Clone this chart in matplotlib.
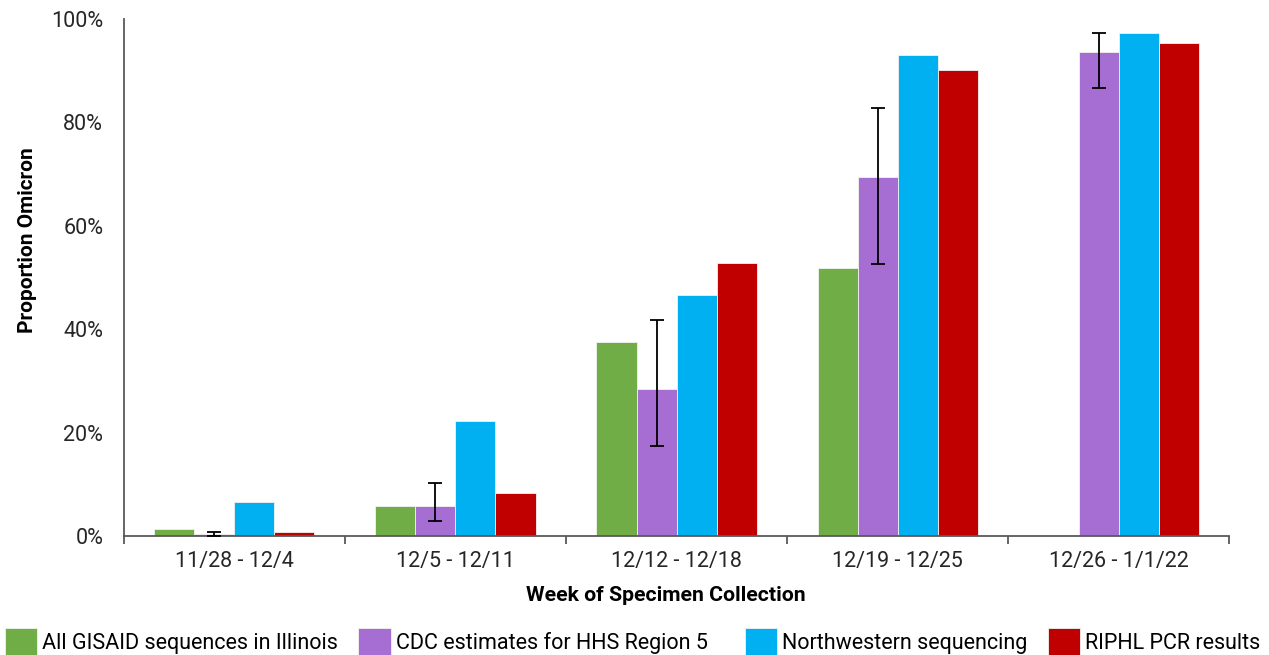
import matplotlib
matplotlib.use("Agg")
import matplotlib.pyplot as plt
import numpy as np
from matplotlib.patches import Patch
from matplotlib.ticker import FuncFormatter

plt.rcParams['font.family'] = ['Roboto', 'DejaVu Sans']

weeks = ['11/28 - 12/4', '12/5 - 12/11', '12/12 - 12/18', '12/19 - 12/25', '12/26 - 1/1/22']
series_names = ['All GISAID sequences in Illinois', 'CDC estimates for HHS Region 5',
                'Northwestern sequencing', 'RIPHL PCR results']
colors = ['#70AD47', '#A66ED2', '#00B0F0', '#C00000']

gisaid = [1.3, 5.8, 37.5, 51.8, np.nan]
cdc = [0.3, 5.8, 28.4, 69.4, 93.6]
cdc_low = [0.0, 2.9, 17.4, 52.6, 86.7]
cdc_high = [0.8, 10.2, 41.8, 82.8, 97.3]
northwestern = [6.6, 22.2, 46.6, 93.0, 97.3]
riphl = [0.8, 8.3, 52.8, 90.1, 95.4]

values = [gisaid, cdc, northwestern, riphl]

fig = plt.figure(figsize=(12.69, 6.55), dpi=100)
ax = fig.add_axes([0.0977, 0.1817, 0.8708, 0.7893])

x = np.arange(len(weeks))
w = 0.181
for i, vals in enumerate(values):
    pos = x + (i - 1.5) * w
    ax.bar(pos, vals, width=w, color=colors[i], edgecolor='#f2f2f2', linewidth=0.6, zorder=2)

cdc_arr = np.array(cdc)
yerr = np.vstack([cdc_arr - np.array(cdc_low), np.array(cdc_high) - cdc_arr])
ax.errorbar(x - 0.5 * w, cdc, yerr=yerr, fmt='none', ecolor='black', elinewidth=1.3,
            capsize=5, capthick=1.3, zorder=3)

ax.set_xlim(-0.5, len(weeks) - 0.5)
ax.set_ylim(0, 100)
ax.set_yticks([0, 20, 40, 60, 80, 100])
ax.yaxis.set_major_formatter(FuncFormatter(lambda v, p: f'{int(v)}%'))
ax.tick_params(axis='y', length=0, labelsize=15.5, pad=15, colors='#262626')

ax.set_xticks(x)
ax.set_xticklabels(weeks)
ax.set_xticks(np.arange(len(weeks) + 1) - 0.5, minor=True)
ax.tick_params(axis='x', which='major', length=0, labelsize=15.5, pad=11, colors='#262626')
ax.tick_params(axis='x', which='minor', length=6, width=1.3, color='#595959')

for s in ['top', 'right']:
    ax.spines[s].set_visible(False)
for s in ['left', 'bottom']:
    ax.spines[s].set_color('#595959')
    ax.spines[s].set_linewidth(1.3)

ax.set_ylabel('Proportion Omicron', fontsize=15, fontweight='bold', labelpad=1)
ax.yaxis.set_label_coords(-0.079, 0.573)
ax.set_xlabel('Week of Specimen Collection', fontsize=15.3, fontweight='bold', labelpad=8)
ax.xaxis.set_label_coords(0.49, -0.097)

# one legend per entry, placed like the original's spacing
legend_x = [0.004, 0.2825, 0.587, 0.826]
for c, name, lx in zip(colors, series_names, legend_x):
    leg = fig.legend([Patch(facecolor=c, edgecolor='#f2f2f2', linewidth=0.6)], [name],
                     loc='lower left', bbox_to_anchor=(lx, 0.0), frameon=False,
                     fontsize=15.5, handlelength=1.5, handleheight=1.55,
                     handletextpad=0.22, borderpad=0, borderaxespad=0)

fig.savefig('out.png', dpi=100)
